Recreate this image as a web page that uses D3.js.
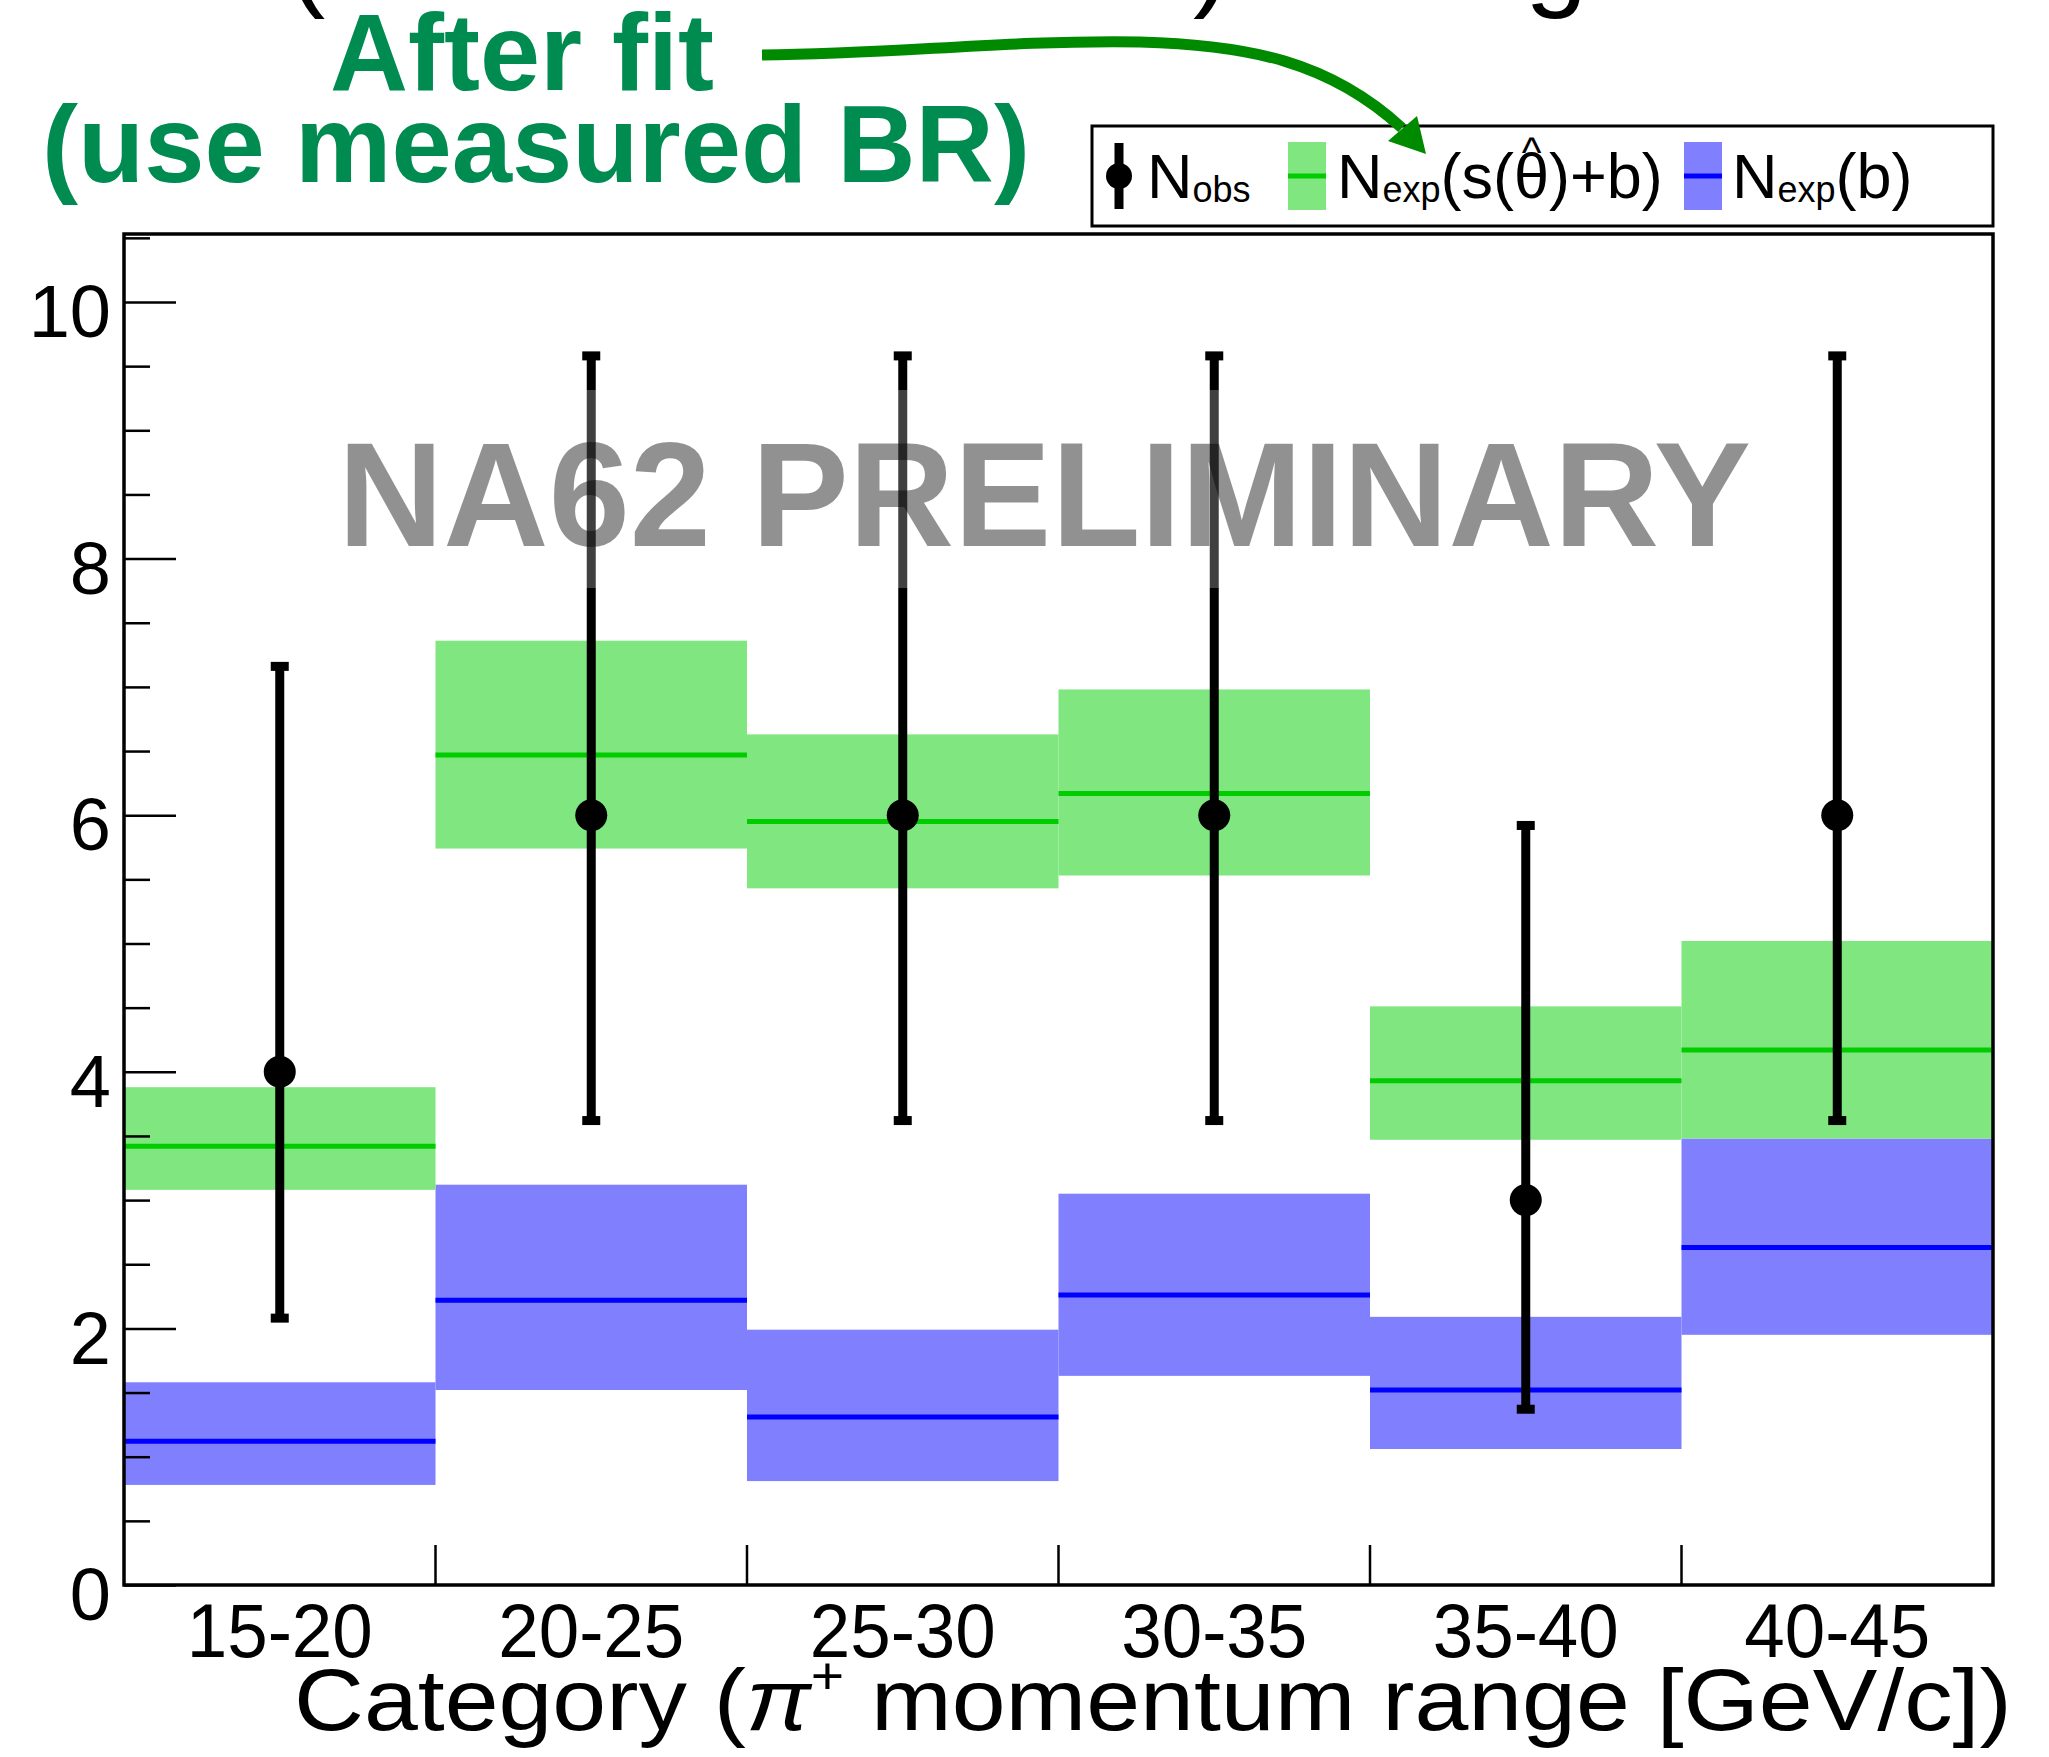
<!DOCTYPE html>
<html>
<head>
<meta charset="utf-8">
<script src="https://cdn.jsdelivr.net/npm/d3@7"></script>
<style>
  html, body { margin: 0; padding: 0; background: #fff; }
  svg { display: block; font-family: "Liberation Sans", Arial, Helvetica, sans-serif; }
</style>
</head>
<body>
<div id="chart"></div>
<script>
// categories (pi+ momentum bins, GeV/c)
const categories = ["15-20", "20-25", "25-30", "30-35", "35-40", "40-45"];

// observed events with Poisson error limits
const nObs     = [4, 6, 6, 6, 3, 6];
const nObsLow  = [2.08, 3.62, 3.62, 3.62, 1.37, 3.62];
const nObsHigh = [7.16, 9.58, 9.58, 9.58, 5.92, 9.58];

// expected signal + background after fit (central value and band)
const sbExp     = [3.42, 6.47, 5.95, 6.17, 3.93, 4.17];
const sbExpLow  = [3.08, 5.74, 5.43, 5.53, 3.47, 3.48];
const sbExpHigh = [3.88, 7.36, 6.63, 6.98, 4.51, 5.02];

// expected background only
const bExp     = [1.12, 2.22, 1.31, 2.26, 1.52, 2.63];
const bExpLow  = [0.78, 1.52, 0.81, 1.63, 1.06, 1.95];
const bExpHigh = [1.58, 3.12, 1.99, 3.05, 2.09, 3.48];

// y axis ticks
const yTicks = [0, 2, 4, 6, 8, 10];
const yMinorTicks = [0.5, 1, 1.5, 2.5, 3, 3.5, 4.5, 5, 5.5, 6.5, 7, 7.5, 8.5, 9, 9.5, 10.5];
const yMax = 10.53;

var width = 2049, height = 1757;
var frame = {left: 124, right: 1993, top: 234, bottom: 1585};

var greenFill = "#80e680", greenLine = "#00cc00";
var blueFill = "#8080ff", blueLine = "#0000ff";
var noteGreen = "#008c50", arrowGreen = "#008a00";

var rows = categories.map(function(c, i) {
  return {cat: c, obs: nObs[i], lo: nObsLow[i], hi: nObsHigh[i],
          sb: sbExp[i], sbLo: sbExpLow[i], sbHi: sbExpHigh[i],
          b: bExp[i], bLo: bExpLow[i], bHi: bExpHigh[i]};
});

var x = d3.scaleBand().domain(categories).range([frame.left, frame.right]).padding(0);
var y = d3.scaleLinear().domain([0, yMax]).range([frame.bottom, frame.top]);

var svg = d3.select("#chart").append("svg")
    .attr("width", width)
    .attr("height", height);

svg.append("rect").attr("width", width).attr("height", height).attr("fill", "#fff");

// cut-off slide title above the chart (only descenders visible)
var cut = [{t: "(", x: 288}, {t: ")", x: 1193}, {t: "g", x: 1525}];
svg.selectAll(".cut").data(cut).enter().append("text")
    .attr("x", function(d) { return d.x; })
    .attr("y", -4)
    .attr("font-size", 112)
    .attr("fill", "#000")
    .text(function(d) { return d.t; });

// background bands
svg.selectAll(".bband").data(rows).enter().append("rect")
    .attr("x", function(d) { return x(d.cat); })
    .attr("width", x.bandwidth())
    .attr("y", function(d) { return y(d.bHi); })
    .attr("height", function(d) { return y(d.bLo) - y(d.bHi); })
    .attr("fill", blueFill);

// s+b bands
svg.selectAll(".sbband").data(rows).enter().append("rect")
    .attr("x", function(d) { return x(d.cat); })
    .attr("width", x.bandwidth())
    .attr("y", function(d) { return y(d.sbHi); })
    .attr("height", function(d) { return y(d.sbLo) - y(d.sbHi); })
    .attr("fill", greenFill);

// central lines
svg.selectAll(".bline").data(rows).enter().append("line")
    .attr("x1", function(d) { return x(d.cat); })
    .attr("x2", function(d) { return x(d.cat) + x.bandwidth(); })
    .attr("y1", function(d) { return y(d.b); })
    .attr("y2", function(d) { return y(d.b); })
    .attr("stroke", blueLine).attr("stroke-width", 5);

svg.selectAll(".sbline").data(rows).enter().append("line")
    .attr("x1", function(d) { return x(d.cat); })
    .attr("x2", function(d) { return x(d.cat) + x.bandwidth(); })
    .attr("y1", function(d) { return y(d.sb); })
    .attr("y2", function(d) { return y(d.sb); })
    .attr("stroke", greenLine).attr("stroke-width", 5);

// observed points with error bars
var cx = function(d) { return x(d.cat) + x.bandwidth() / 2; };
var pts = svg.selectAll(".obs").data(rows).enter().append("g");
pts.append("line")
    .attr("x1", cx).attr("x2", cx)
    .attr("y1", function(d) { return y(d.lo); })
    .attr("y2", function(d) { return y(d.hi); })
    .attr("stroke", "#000").attr("stroke-width", 9);
pts.append("rect")
    .attr("x", function(d) { return cx(d) - 9; })
    .attr("y", function(d) { return y(d.hi) - 4.5; })
    .attr("width", 18).attr("height", 9).attr("fill", "#000");
pts.append("rect")
    .attr("x", function(d) { return cx(d) - 9; })
    .attr("y", function(d) { return y(d.lo) - 4.5; })
    .attr("width", 18).attr("height", 9).attr("fill", "#000");
pts.append("circle")
    .attr("cx", cx)
    .attr("cy", function(d) { return y(d.obs); })
    .attr("r", 16).attr("fill", "#000");

// y axis minor ticks
svg.append("g")
    .attr("transform", "translate(" + frame.left + ",0)")
    .call(d3.axisLeft(y).tickValues(yMinorTicks).tickSize(-26).tickFormat(""))
    .call(function(g) { g.select(".domain").remove(); })
    .selectAll("line").attr("stroke-width", 2.5);

// y axis major ticks and labels
var yAxis = svg.append("g")
    .attr("transform", "translate(" + frame.left + ",0)")
    .call(d3.axisLeft(y).tickValues(yTicks).tickSize(-52).tickPadding(13).tickFormat(d3.format("d")));
yAxis.select(".domain").remove();
yAxis.selectAll("line").attr("stroke-width", 2.5);
yAxis.selectAll("text")
    .attr("font-size", 74)
    .attr("font-family", "Liberation Sans, Arial, sans-serif")
    .attr("fill", "#000")
    .attr("dy", "0.47em");

// x axis labels
var xAxis = svg.append("g")
    .attr("transform", "translate(0," + frame.bottom + ")")
    .call(d3.axisBottom(x).tickSize(0).tickPadding(18));
xAxis.select(".domain").remove();
xAxis.selectAll("text")
    .attr("font-size", 76)
    .attr("font-family", "Liberation Sans, Arial, sans-serif")
    .attr("fill", "#000")
    .attr("textLength", 186)
    .attr("lengthAdjust", "spacingAndGlyphs");

// bin boundary ticks on the x axis
svg.selectAll(".xtick").data(categories.slice(1)).enter().append("line")
    .attr("x1", function(d) { return x(d); })
    .attr("x2", function(d) { return x(d); })
    .attr("y1", frame.bottom)
    .attr("y2", frame.bottom - 40)
    .attr("stroke", "#000").attr("stroke-width", 2.5);

// frame
svg.append("rect")
    .attr("x", frame.left).attr("y", frame.top)
    .attr("width", frame.right - frame.left)
    .attr("height", frame.bottom - frame.top)
    .attr("fill", "none").attr("stroke", "#000").attr("stroke-width", 3.5);

// x axis title
var xTitle = svg.append("text")
    .attr("font-size", 88)
    .attr("fill", "#000");
xTitle.append("tspan").text("Category (");
xTitle.append("tspan").attr("font-style", "italic").text("π");
xTitle.append("tspan").attr("font-size", 52).attr("dy", -36).text("+");
xTitle.append("tspan").attr("dy", 36).text(" momentum range [GeV/c])");
var xtLen = xTitle.node().getComputedTextLength();
xTitle.attr("transform", "translate(294,1730) scale(" + (1718 / xtLen) + ",1)");

// watermark
svg.append("rect")
    .attr("x", 325).attr("y", 390)
    .attr("width", 1440).attr("height", 198)
    .attr("fill", "#fff").attr("fill-opacity", 0.25);
svg.append("text")
    .attr("x", 338).attr("y", 546)
    .attr("font-size", 148)
    .attr("font-weight", "bold")
    .attr("fill", "#000").attr("fill-opacity", 0.43)
    .attr("textLength", 1413)
    .attr("lengthAdjust", "spacingAndGlyphs")
    .text("NA62 PRELIMINARY");

// legend
var leg = svg.append("g");
leg.append("rect")
    .attr("x", 1092).attr("y", 126)
    .attr("width", frame.right - 1092).attr("height", 100)
    .attr("fill", "#fff").attr("stroke", "#000").attr("stroke-width", 3);

// N_obs entry
leg.append("line").attr("x1", 1119).attr("x2", 1119).attr("y1", 143).attr("y2", 209)
    .attr("stroke", "#000").attr("stroke-width", 9);
leg.append("circle").attr("cx", 1119).attr("cy", 176).attr("r", 13).attr("fill", "#000");
var t1 = leg.append("text").attr("x", 1147).attr("y", 198).attr("font-size", 63);
t1.append("tspan").text("N");
t1.append("tspan").attr("font-size", 36).attr("dy", 4).text("obs");

// N_exp(s+b) entry
leg.append("rect").attr("x", 1288).attr("y", 142).attr("width", 38).attr("height", 68).attr("fill", greenFill);
leg.append("line").attr("x1", 1288).attr("x2", 1326).attr("y1", 176).attr("y2", 176)
    .attr("stroke", greenLine).attr("stroke-width", 5);
var t2 = leg.append("text").attr("x", 1337).attr("y", 198).attr("font-size", 63);
t2.append("tspan").text("N");
t2.append("tspan").attr("font-size", 36).attr("dy", 4).text("exp");
t2.append("tspan").attr("dy", -4).text("(s(θ)+b)");
var th = t2.node().getExtentOfChar(7);
leg.append("text")
    .attr("x", th.x + th.width / 2).attr("y", 167)
    .attr("text-anchor", "middle")
    .attr("font-size", 42)
    .text("^");

// N_exp(b) entry
leg.append("rect").attr("x", 1684).attr("y", 142).attr("width", 38).attr("height", 68).attr("fill", blueFill);
leg.append("line").attr("x1", 1684).attr("x2", 1722).attr("y1", 176).attr("y2", 176)
    .attr("stroke", blueLine).attr("stroke-width", 5);
var t3 = leg.append("text").attr("x", 1732).attr("y", 198).attr("font-size", 63);
t3.append("tspan").text("N");
t3.append("tspan").attr("font-size", 36).attr("dy", 4).text("exp");
t3.append("tspan").attr("dy", -4).text("(b)");

// annotation
svg.append("text")
    .attr("x", 330).attr("y", 90)
    .attr("font-size", 109).attr("font-weight", "bold")
    .attr("fill", noteGreen)
    .attr("textLength", 384).attr("lengthAdjust", "spacingAndGlyphs")
    .text("After fit");
svg.append("text")
    .attr("x", 42).attr("y", 182)
    .attr("font-size", 109).attr("font-weight", "bold")
    .attr("fill", noteGreen)
    .attr("textLength", 988).attr("lengthAdjust", "spacingAndGlyphs")
    .text("(use measured BR)");

// arrow to the legend
svg.append("path")
    .attr("d", "M762,55 C900,54 1000,40 1140,42 C1250,45 1330,62 1402,128")
    .attr("fill", "none").attr("stroke", arrowGreen).attr("stroke-width", 11);
svg.append("path")
    .attr("d", "M1426,154 L1388,141 L1417,116 Z")
    .attr("fill", arrowGreen);
</script>
</body>
</html>
